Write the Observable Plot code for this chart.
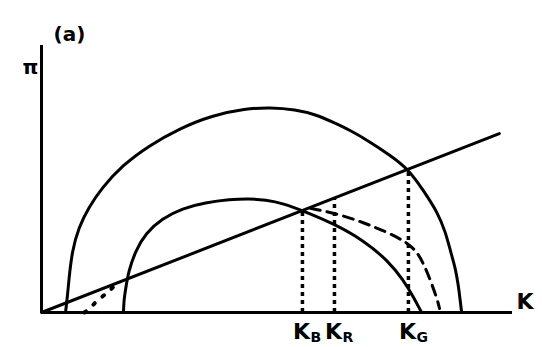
<!DOCTYPE html>
<html>
<head>
<meta charset="utf-8">
<script src="https://cdn.jsdelivr.net/npm/d3@7"></script>
<script src="https://cdn.jsdelivr.net/npm/@observablehq/plot@0.6"></script>
<style>
  html, body { margin: 0; padding: 0; background: #fff; }
  #chart svg { display: block; }
</style>
</head>
<body>
<div id="chart"></div>
<script>
// Outer profit curve (capital K vs profit π)
const bigK  = [0.51, 0.55, 0.58, 0.65, 0.79, 1.00, 1.29, 1.71, 2.28, 2.92, 3.62, 4.33, 4.86, 5.39, 5.82, 6.20, 6.56, 6.92, 7.41, 7.79, 8.11, 8.41, 8.58, 8.68, 8.79, 8.85, 8.89, 8.92];
const bigPi = [0.00, 0.36, 0.72, 1.39, 1.91, 2.36, 2.81, 3.30, 3.75, 4.13, 4.43, 4.58, 4.61, 4.56, 4.45, 4.27, 4.09, 3.87, 3.53, 3.22, 2.74, 2.25, 1.80, 1.39, 0.99, 0.61, 0.27, 0.00];

// Inner profit curve
const smallK  = [1.74, 1.75, 1.78, 1.85, 2.00, 2.21, 2.56, 2.99, 3.48, 4.00, 4.40, 4.76, 5.14, 5.54, 6.20, 6.84, 7.35, 7.69, 7.90, 8.07];
const smallPi = [0.00, 0.27, 0.49, 0.94, 1.39, 1.78, 2.11, 2.34, 2.47, 2.54, 2.56, 2.53, 2.45, 2.29, 2.00, 1.62, 1.17, 0.72, 0.34, 0.00];

// Straight line from the origin
const lineK  = [0, 9.72];
const linePi = [0, 4.02];

// Dashed curve on the right
const dashK  = [5.71, 6.28, 6.84, 7.35, 7.77, 7.98, 8.11, 8.26, 8.41, 8.45];
const dashPi = [2.34, 2.22, 2.02, 1.80, 1.57, 1.35, 1.10, 0.72, 0.27, 0.09];

// Dotted curve near the origin
const dotK  = [0.91, 1.00, 1.19, 1.40, 1.53];
const dotPi = [0.00, 0.07, 0.27, 0.45, 0.58];

// Marked capital levels
const kMarks = [5.54, 6.22, 7.79];
const kSubs  = ["B", "R", "G"];

const pts = (xs, ys) => xs.map((x, i) => ({x, y: ys[i]}));
const slope = linePi[1] / lineK[1];
const drops = kMarks.map((k, i) => ({k, top: k * slope, sub: kSubs[i]}));

const font = "DejaVu Sans, Liberation Sans, Arial, sans-serif";

const chart = Plot.plot({
  width: 542,
  height: 347,
  marginLeft: 41,
  marginRight: 30,
  marginTop: 45,
  marginBottom: 35,
  x: {domain: [0, 10], axis: null},
  y: {domain: [0, 6], axis: null},
  style: {background: "#fff", fontFamily: font},
  marks: [
    // axes
    Plot.ruleX([0], {y1: 0, y2: 6, stroke: "black", strokeWidth: 3}),
    Plot.ruleY([0], {x1: 0, x2: 10, stroke: "black", strokeWidth: 3}),
    // drop lines from the line to the K axis
    Plot.ruleX(drops, {x: "k", y1: 0, y2: "top", stroke: "black", strokeWidth: 3.5, strokeDasharray: "4,4"}),
    // profit curves
    Plot.line(pts(bigK, bigPi), {x: "x", y: "y", curve: "basis", stroke: "black", strokeWidth: 3}),
    Plot.line(pts(smallK, smallPi), {x: "x", y: "y", curve: "basis", stroke: "black", strokeWidth: 3}),
    Plot.line(pts(lineK, linePi), {x: "x", y: "y", stroke: "black", strokeWidth: 3}),
    Plot.line(pts(dashK, dashPi), {x: "x", y: "y", curve: "basis", stroke: "black", strokeWidth: 3, strokeDasharray: "10,7"}),
    Plot.line(pts(dotK, dotPi), {x: "x", y: "y", curve: "catmull-rom", stroke: "black", strokeWidth: 4, strokeDasharray: "2,10", strokeLinecap: "round"}),
    // tick labels K_B, K_R, K_G
    Plot.text(drops, {x: "k", y: 0, text: () => "K", dx: -1, dy: 19, fontSize: 22, fontWeight: "bold", fill: "black"}),
    Plot.text(drops, {x: "k", y: 0, text: "sub", dx: 8, dy: 25, textAnchor: "start", fontSize: 14, fontWeight: "bold", fill: "black"}),
    // axis titles and panel tag
    Plot.text(["K"], {frameAnchor: "bottom-right", dx: 21, dy: -4, fontSize: 22, fontWeight: "bold", fill: "black"}),
    Plot.text(["π"], {frameAnchor: "top-left", dx: -19, dy: 14, fontSize: 20, fontWeight: "bold", fill: "black"}),
    Plot.text(["(a)"], {frameAnchor: "top-left", dx: 12, dy: -19, fontSize: 20, fontWeight: "bold", fill: "black"})
  ]
});

document.getElementById("chart").appendChild(chart);
</script>
</body>
</html>
